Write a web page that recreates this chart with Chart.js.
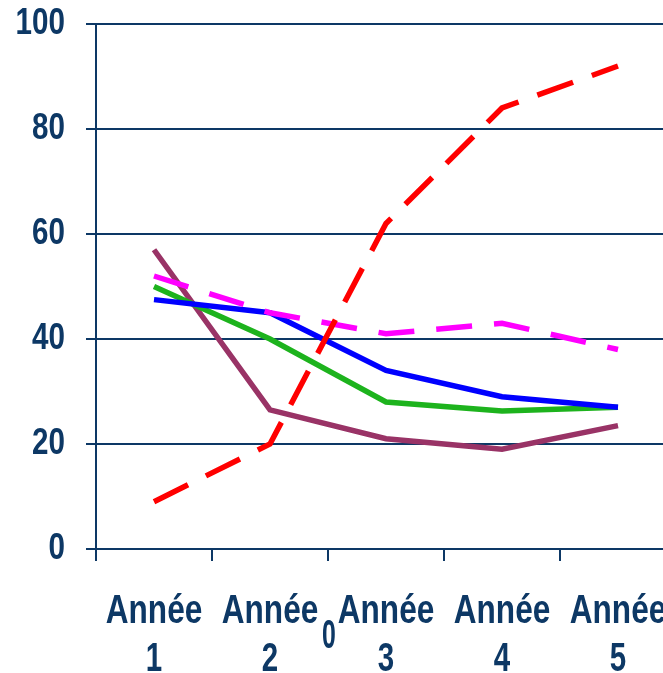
<!DOCTYPE html>
<html>
<head>
<meta charset="utf-8">
<script src="https://cdn.jsdelivr.net/npm/chart.js@4.4.0/dist/chart.umd.min.js"></script>
<style>
  html, body { margin: 0; padding: 0; overflow: hidden; background: #fff; }
  #wrap { width: 663px; height: 673px; overflow: hidden; }
</style>
</head>
<body>
<div id="wrap"><canvas id="chart" width="700" height="673"></canvas></div>
<script>
const annees = [["Année", "1"], ["Année", "2"], ["Année", "3"], ["Année", "4"], ["Année", "5"]];
const serieRouge = [9, 20, 62, 84, 92];
const serieMagenta = [52, 45, 41, 43, 38];
const serieBleue = [47.5, 45, 34, 29, 27];
const serieVerte = [50, 40, 28, 26.3, 27];
const serieViolette = [57, 26.5, 21, 19, 23.5];
const texteZero = "0";

const bleuMarine = "#0d3865";
const police = "'Liberation Sans', Arial, sans-serif";

// texte un peu condensé, comme dans l'original
function texteEtroit(ctx, txt, x, y, echelle) {
  ctx.save();
  ctx.translate(x, y);
  ctx.scale(echelle, 1);
  ctx.fillText(txt, 0, 0);
  ctx.restore();
}

const etiquettesPlugin = {
  id: "etiquettes",
  afterDraw(chart) {
    const ctx = chart.ctx;
    const sx = chart.scales.x;
    const sy = chart.scales.y;
    ctx.save();
    ctx.fillStyle = bleuMarine;

    // axe Y
    ctx.font = "bold 37px " + police;
    ctx.textAlign = "right";
    ctx.textBaseline = "middle";
    sy.ticks.forEach((t, i) => {
      texteEtroit(ctx, String(t.value), 65, sy.getPixelForTick(i), 0.8);
    });

    // axe X
    ctx.font = "bold 41px " + police;
    ctx.textAlign = "center";
    ctx.textBaseline = "alphabetic";
    annees.forEach((lab, i) => {
      const x = sx.getPixelForValue(i);
      texteEtroit(ctx, lab[0], x, 623, 0.77);
      texteEtroit(ctx, lab[1], x, 671, 0.72);
    });

    ctx.font = "bold 40px " + police;
    texteEtroit(ctx, texteZero, sx.getPixelForValue(1.5) + 1, 648, 0.62);
    ctx.restore();
  }
};

let ctx = document.getElementById("chart").getContext("2d");
let graf = new Chart(ctx, {
  type: 'line',
  data: {
    labels: annees,
    datasets: [
      { data: serieRouge, borderColor: "#ff0000", borderWidth: 5.5, borderDash: [38, 20], order: 1 },
      { data: serieMagenta, borderColor: "#ff00ff", borderWidth: 5.5, borderDash: [36, 22], order: 2 },
      { data: serieBleue, borderColor: "#0000ff", borderWidth: 5.5, order: 3 },
      { data: serieVerte, borderColor: "#1db31d", borderWidth: 5.5, order: 4 },
      { data: serieViolette, borderColor: "#993366", borderWidth: 5.5, order: 5 }
    ]
  },
  options: {
    responsive: false,
    animation: false,
    elements: { point: { radius: 0 }, line: { tension: 0, borderCapStyle: 'butt' } },
    layout: { padding: { top: 24, right: 24, left: 0, bottom: 0 } },
    plugins: { legend: { display: false }, tooltip: { enabled: false } },
    scales: {
      x: {
        offset: true,
        grid: { offset: true, drawOnChartArea: false, drawTicks: true, tickLength: 12, color: bleuMarine, lineWidth: 2 },
        border: { display: false },
        ticks: { display: false, autoSkip: false },
        afterFit(scale) { scale.height = 124; }
      },
      y: {
        min: 0, max: 100,
        grid: { color: bleuMarine, lineWidth: 2, tickLength: 10 },
        border: { color: bleuMarine, width: 2 },
        ticks: { display: false, stepSize: 20 },
        afterFit(scale) { scale.width = 96; }
      }
    }
  },
  plugins: [etiquettesPlugin]
});
</script>
</body>
</html>
